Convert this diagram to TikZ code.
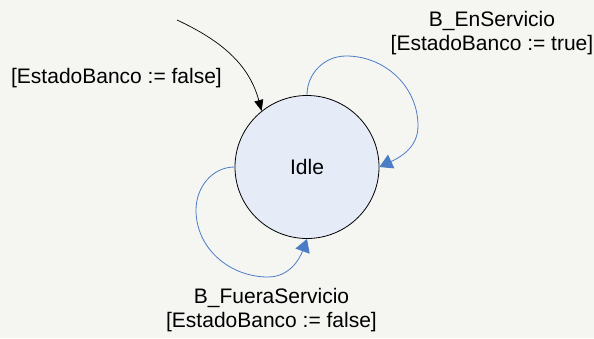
\documentclass[tikz,border=0pt]{standalone}
\usepackage{fontspec}
\setmainfont{Liberation Sans}
\usetikzlibrary{shapes.geometric,arrows.meta}
\definecolor{bgc}{HTML}{F5F5F2}
\definecolor{statefill}{HTML}{E6ECF7}
\definecolor{loopblue}{HTML}{4A7DC6}
\tikzset{
  statenode/.style={ellipse,draw=black,line width=0.8pt,fill=statefill,minimum width=144pt,minimum height=143pt,inner sep=0pt},
  lbl/.style={align=center,inner sep=0pt,font=\fontsize{21}{24}\selectfont},
  initarrow/.style={draw=black,line width=0.7pt,-{Triangle[length=11pt,width=9pt]}},
  looparrow/.style={draw=loopblue,line width=0.8pt,-{Triangle[length=13pt,width=15pt,fill=loopblue]}}
}
\begin{document}
\begin{tikzpicture}[x=1pt,y=1pt]
\fill[bgc] (0,0) rectangle (594,338);
\useasboundingbox (0,0) rectangle (594,338);
\node[statenode] (idle) at (307,171) {};
\node[lbl] (idletxt) at (307,171) {Idle};
\coordinate (s) at (177,318);
\draw[initarrow] (s) to[out=-25,in=105] (idle.129);
\node[lbl] (initlbl) at (116.5,260) {[EstadoBanco := false]};
\coordinate (t1) at (346,282);
\coordinate (t2) at (418,212);
\draw[looparrow] (idle.north) to[out=90,in=180] (t1) to[out=0,in=90] (t2) to[out=-90,in=25] (idle.east);
\node[lbl] (toplbl) at (492,305) {B\_EnServicio\\{}[EstadoBanco := true]};
\coordinate (b1) at (196,128);
\coordinate (b2) at (268,61);
\draw[looparrow] (idle.west) to[out=180,in=90] (b1) to[out=-90,in=180] (b2) to[out=0,in=-110] (idle.south);
\node[lbl] (botlbl) at (271.5,27.5) {B\_FueraServicio\\{}[EstadoBanco := false]};
\end{tikzpicture}
\end{document}
